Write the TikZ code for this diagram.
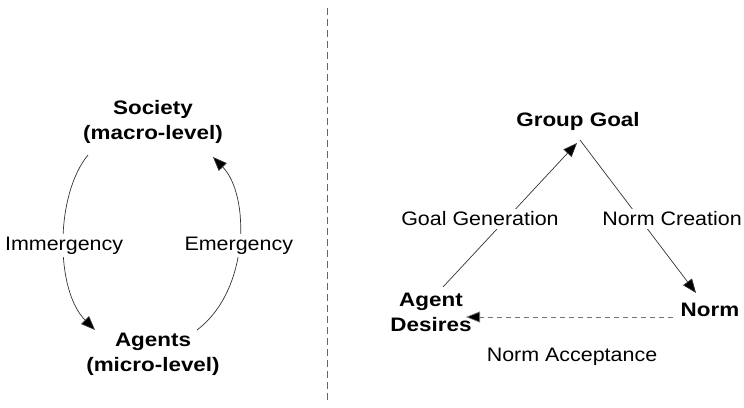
\documentclass[tikz,border=0pt]{standalone}
\usepackage{fontspec}
\setmainfont{Liberation Sans}[FakeStretch=1.1, BoldFeatures={FakeStretch=1.15}]
\usetikzlibrary{arrows.meta}
\begin{document}
\begin{tikzpicture}[x=1pt,y=-1pt,
  every node/.style={font=\fontsize{19.5}{25}\selectfont, inner sep=0pt},
  heading/.style={font=\fontsize{19.5}{25}\selectfont\bfseries, align=center},
  lab/.style={fill=white, inner sep=3pt},
  conn/.style={line width=0.7pt, draw=black!80, -{Triangle[length=14pt,width=11pt,fill=black]}},
  dconn/.style={conn, draw=black!55, dash pattern=on 5pt off 4pt},
  divider/.style={line width=0.8pt, draw=black!60, dash pattern=on 7pt off 4pt}]
\useasboundingbox (0,0) rectangle (744,407);
\coordinate (divtop) at (327,8);
\coordinate (divbot) at (327,403);
\draw[divider] (divtop) -- (divbot);
% left diagram
\node[heading] (soc) at (153,122) {Society\\(macro-level)};
\node[heading] (agents) at (153,354) {Agents\\(micro-level)};
\draw[conn] ([shift={(-65,33)}]soc.center) .. controls (55,195) and (55,290) .. node[lab, yshift=-3pt] (imm) {Immergency} ([shift={(-58,-24)}]agents.center);
\draw[conn] ([shift={(44,-24)}]agents.center) .. controls (250,290) and (250,195) .. node[lab, yshift=-3pt] (emg) {Emergency} ([shift={(60,35)}]soc.center);
% right diagram
\node[heading] (gg) at (578,121) {Group Goal};
\node[heading] (ad) at (431,312) {Agent\\Desires};
\node[heading] (norm) at (710,310) {Norm};
\draw[conn] ([shift={(12,-25)}]ad.center) -- ([shift={(-1,22)}]gg.center);
\draw[conn] ([shift={(2,19)}]gg.center) -- ([shift={(-14,-17)}]norm.center);
\draw[dconn] ([shift={(-37,7)}]norm.center) -- ([shift={(35,5)}]ad.center);
\node[lab] (gglab) at (480,219) {Goal Generation};
\node[lab] (nclab) at (672,219) {Norm Creation};
\node (nalab) at (572,357) {Norm Acceptance};
\end{tikzpicture}
\end{document}
